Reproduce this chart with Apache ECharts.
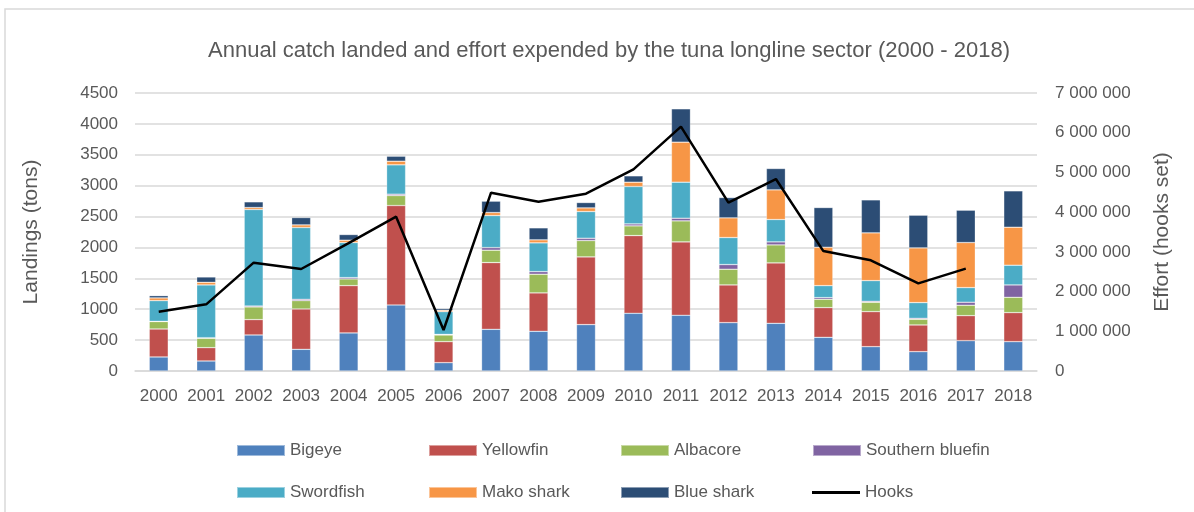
<!DOCTYPE html>
<html>
<head>
<meta charset="utf-8">
<script src="https://cdn.jsdelivr.net/npm/echarts@6/dist/echarts.min.js"></script>
<style>
  html, body { margin: 0; padding: 0; background: #fff; }
  #chart { width: 1194px; height: 512px; }
</style>
</head>
<body>
<div id="chart"></div>
<script>
// years on the x axis
var years = ["2000", "2001", "2002", "2003", "2004", "2005", "2006", "2007", "2008", "2009",
             "2010", "2011", "2012", "2013", "2014", "2015", "2016", "2017", "2018"];

// landings (tons) per species
var bigeye      = [227, 162, 583, 351, 616, 1069, 135, 675, 643, 751, 934, 902, 783, 772, 545, 394, 313, 491, 475];
var yellowfin   = [453, 216, 249, 653, 766, 1609, 340, 1080, 621, 1096, 1258, 1188, 610, 978, 481, 567, 432, 405, 470];
var albacore    = [120, 151, 205, 135, 108, 162, 108, 200, 302, 264, 157, 340, 254, 291, 135, 151, 92, 168, 248];
var southernBf  = [4, 10, 16, 22, 22, 22, 10, 43, 43, 38, 32, 43, 76, 49, 27, 16, 16, 49, 200];
var swordfish   = [335, 854, 1561, 1161, 567, 475, 368, 518, 465, 432, 605, 583, 437, 362, 194, 335, 254, 237, 319];
var makoShark   = [44, 43, 32, 43, 38, 59, 22, 49, 49, 59, 70, 648, 319, 480, 621, 773, 886, 729, 615];
var blueShark   = [37, 86, 92, 119, 92, 81, 27, 184, 194, 87, 103, 540, 329, 346, 643, 534, 529, 524, 589];

// effort (hooks set)
var hooks = [1494000, 1679000, 2728000, 2568000, 3220000, 3886000, 1032000, 4490000, 4264000, 4465000,
             5078000, 6152000, 4238000, 4834000, 3020000, 2787000, 2207000, 2577000, null];

var leftTicks = { min: 0, max: 4500, interval: 500 };
var rightTicks = { min: 0, max: 7000000, interval: 1000000 };

var FONT = "'Liberation Sans', Arial, sans-serif";
var TXT = "#595959";

var chart = echarts.init(document.getElementById("chart"));

function barSeries(name, data, color) {
  return {
    name: name,
    type: "bar",
    stack: "catch",
    data: data,
    barCategoryGap: "60%",
    itemStyle: { color: color, borderColor: "rgba(255,255,255,0.45)", borderWidth: 0.6 },
  };
}

function spaced(v) {
  return String(v).replace(/\B(?=(\d{3})+(?!\d))/g, " ");
}

// one legend per item so the columns line up like the original
var legendSlots = [
  ["Bigeye", 231, 437], ["Yellowfin", 423, 437], ["Albacore", 615, 437], ["Southern bluefin", 807, 437],
  ["Swordfish", 231, 479], ["Mako shark", 423, 479], ["Blue shark", 615, 479], ["Hooks", 807, 479],
];
var legends = legendSlots.map(function (s) {
  var item = s[0] === "Hooks"
    ? { name: "Hooks", icon: "path://M0,0 L48,0 L48,3 L0,3 Z", itemStyle: { color: "#000" } }
    : { name: s[0], icon: "rect" };
  return {
    left: s[1],
    top: s[2],
    itemWidth: 48,
    itemHeight: s[0] === "Hooks" ? 3 : 11,
    textStyle: { color: TXT, fontSize: 17, fontFamily: FONT },
    data: [item],
  };
});

var option = {
  animation: false,
  backgroundColor: "#fff",
  title: {
    text: "Annual catch landed and effort expended by the tuna longline sector (2000 - 2018)",
    left: 604,
    textAlign: "center",
    top: 35,
    textStyle: { color: TXT, fontSize: 22, fontWeight: "normal", fontFamily: FONT },
  },
  graphic: [
    {
      type: "rect",
      shape: { x: 5, y: 9, width: 1200, height: 520 },
      style: { fill: "none", stroke: "#d9d9d9", lineWidth: 1.5 },
      silent: true,
    },
  ],
  legend: legends,
  grid: { left: 135, right: 157, top: 93, bottom: 141, containLabel: false },
  xAxis: {
    type: "category",
    data: years,
    axisTick: { show: false },
    axisLine: { lineStyle: { color: "#d9d9d9", width: 1.5 } },
    axisLabel: { color: TXT, fontSize: 17, fontFamily: FONT, margin: 17, interval: 0 },
  },
  yAxis: [
    {
      type: "value",
      min: leftTicks.min,
      max: leftTicks.max,
      interval: leftTicks.interval,
      name: "Landings (tons)",
      nameLocation: "middle",
      nameGap: 93,
      nameTextStyle: { color: TXT, fontSize: 21, fontFamily: FONT },
      axisLine: { show: false },
      axisTick: { show: false },
      axisLabel: { color: TXT, fontSize: 17, fontFamily: FONT, margin: 17, formatter: function (v) { return String(v); } },
      splitLine: { lineStyle: { color: "#d9d9d9", width: 1.5 } },
    },
    {
      type: "value",
      min: rightTicks.min,
      max: rightTicks.max,
      interval: rightTicks.interval,
      name: "Effort (hooks set)",
      nameLocation: "middle",
      nameGap: 115,
      nameTextStyle: { color: TXT, fontSize: 21, fontFamily: FONT },
      axisLine: { show: false },
      axisTick: { show: false },
      axisLabel: { color: TXT, fontSize: 17, fontFamily: FONT, margin: 18, formatter: spaced },
      splitLine: { show: false },
    },
  ],
  series: [
    barSeries("Bigeye", bigeye, "#4F81BD"),
    barSeries("Yellowfin", yellowfin, "#C0504D"),
    barSeries("Albacore", albacore, "#9BBB59"),
    barSeries("Southern bluefin", southernBf, "#8064A2"),
    barSeries("Swordfish", swordfish, "#4BACC6"),
    barSeries("Mako shark", makoShark, "#F79646"),
    barSeries("Blue shark", blueShark, "#2C4D75"),
    {
      name: "Hooks",
      type: "line",
      yAxisIndex: 1,
      data: hooks,
      symbol: "none",
      connectNulls: false,
      lineStyle: { color: "#000", width: 2.5 },
      itemStyle: { color: "#000" },
      z: 5,
    },
  ],
};

chart.setOption(option);
</script>
</body>
</html>
